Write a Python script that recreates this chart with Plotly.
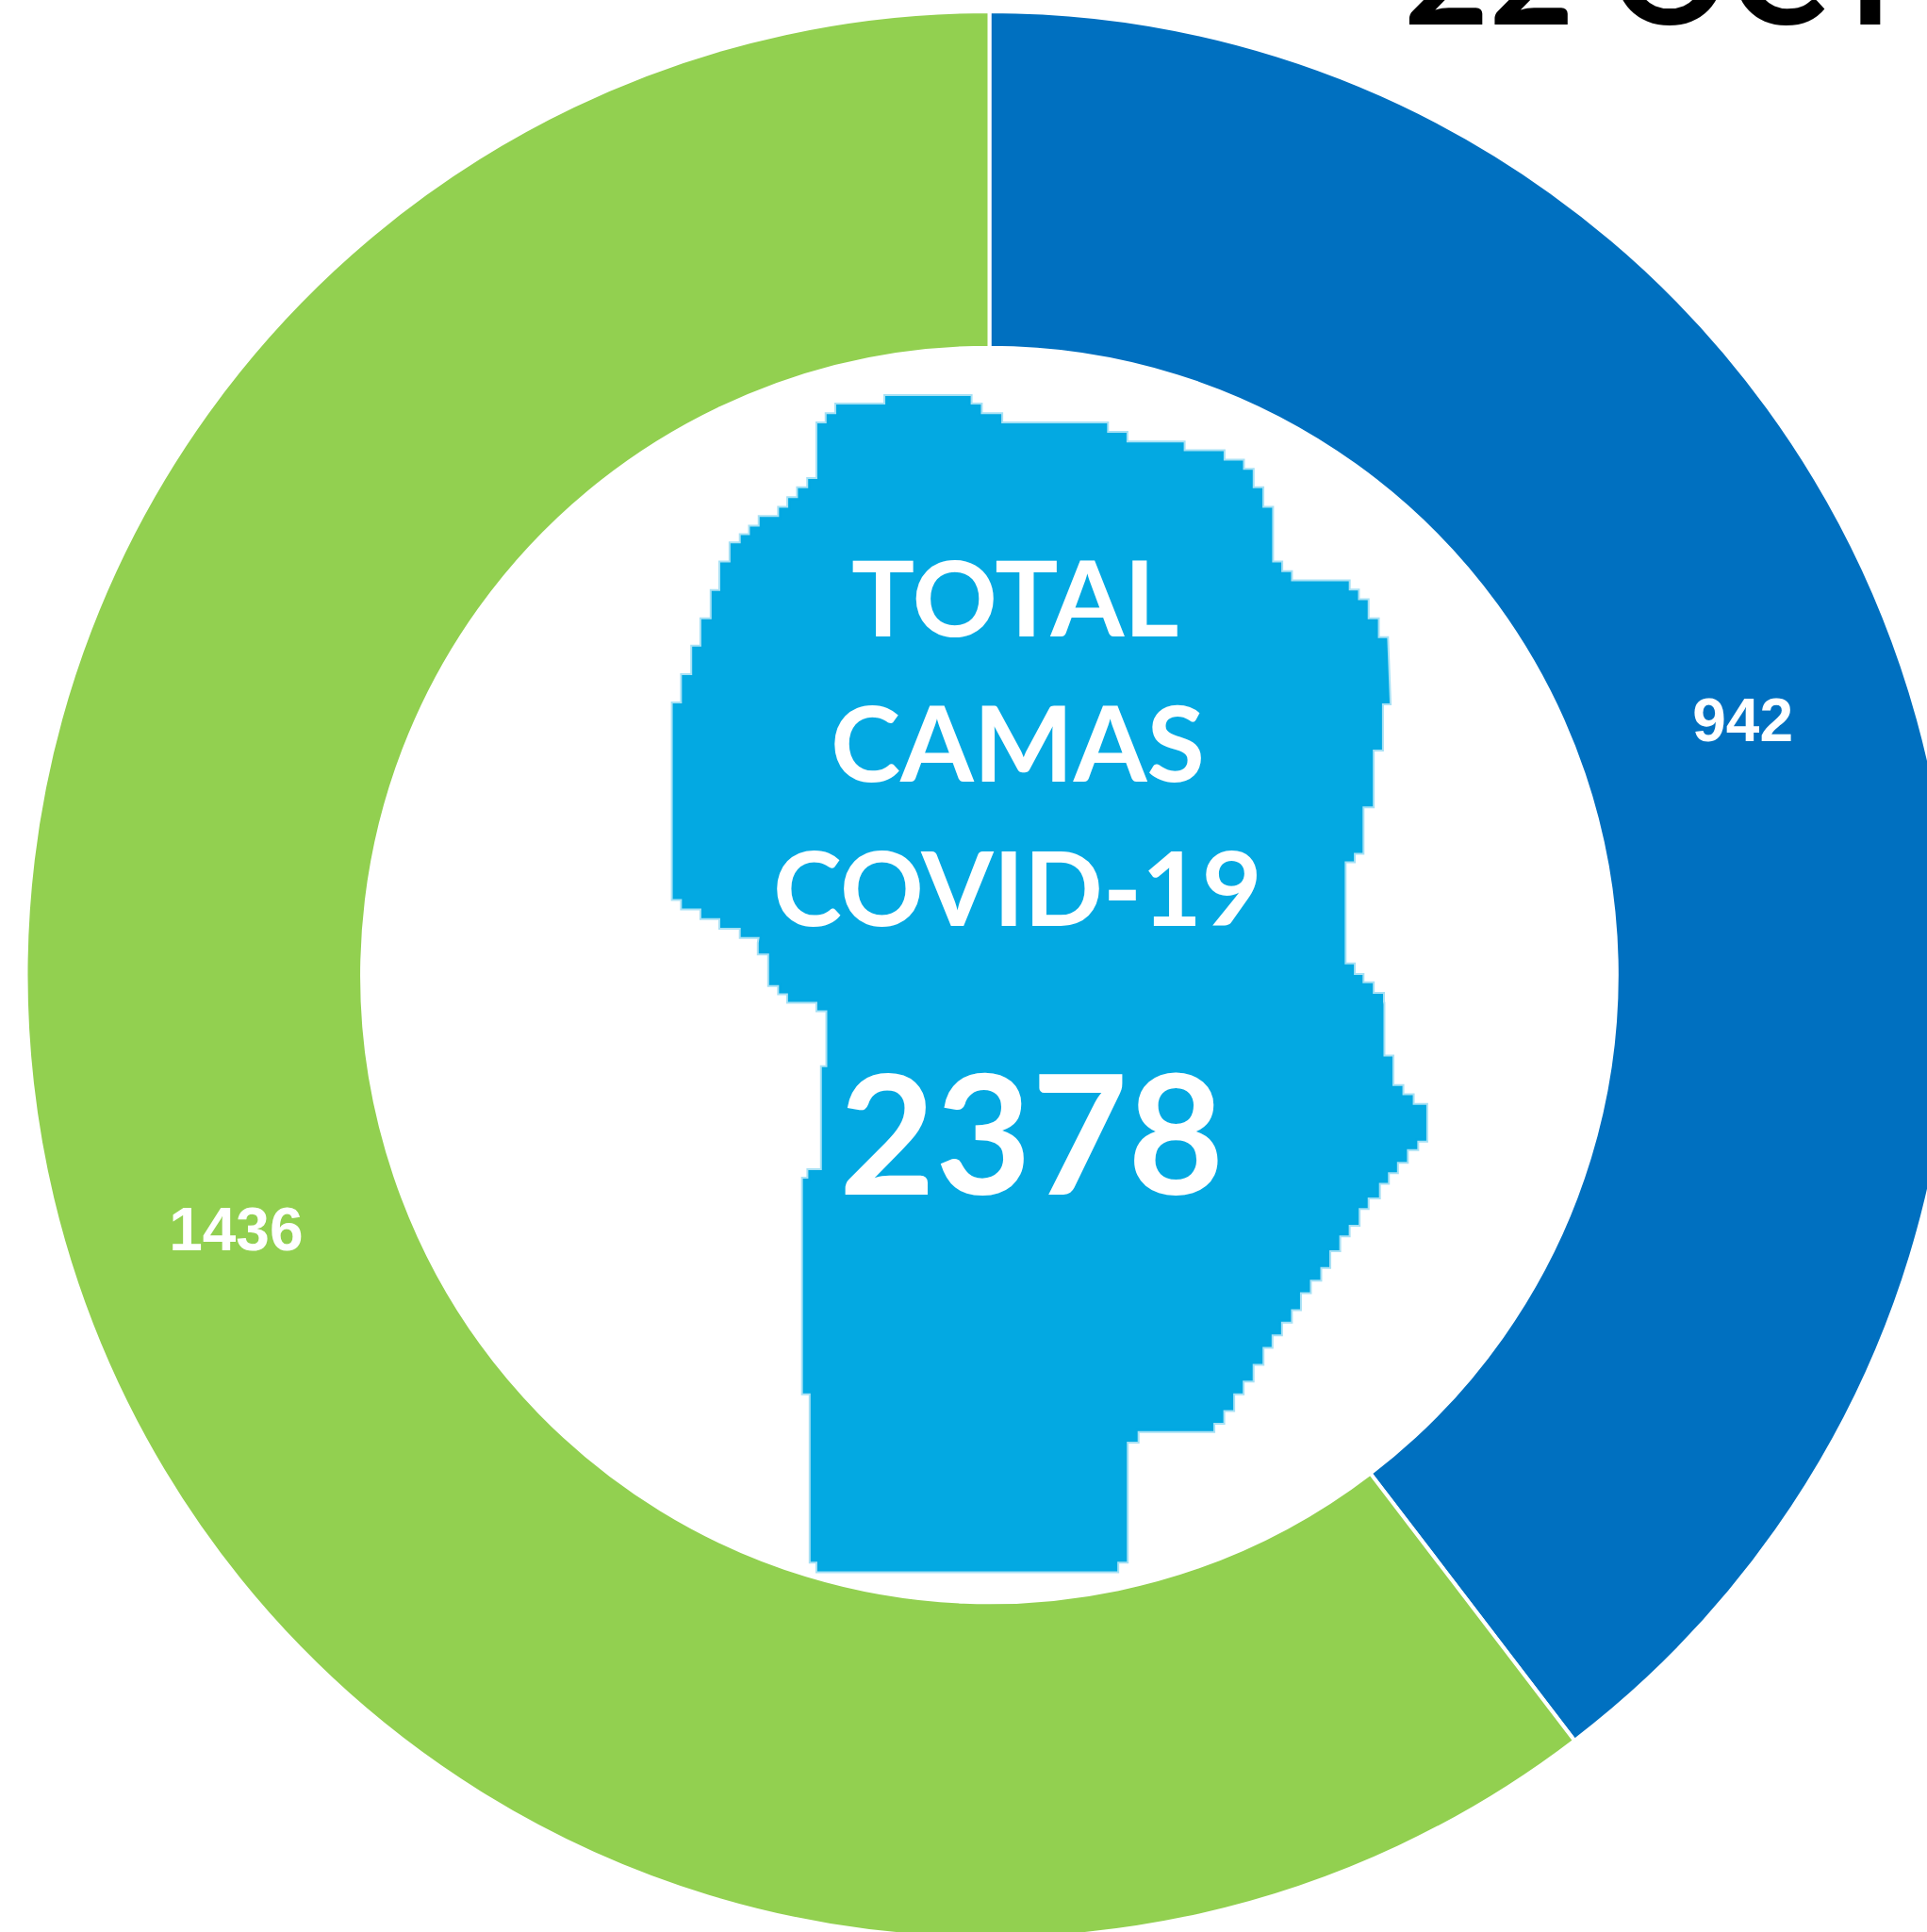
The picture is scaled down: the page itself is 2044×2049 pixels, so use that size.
import plotly.graph_objects as go

categories = ["Ocupadas", "Disponibles"]
values = [942, 1436]
colors = ["#0070C0", "#92D050"]
center_lines = ["TOTAL", "CAMAS", "COVID-19"]
total_label = "2378"
date_label = "22 OCT"

W, H = 2099, 2068

# map silhouette, in page pixels via the zoom crops
z2 = [(363,110),(363,88),(382,88),(382,65),(478,65),(478,45),(645,45),(645,65),(665,65),(665,88),(705,88),(705,110),
      (912,110),(912,132),(950,132),(950,155),(1062,155),(1062,176),(1140,176),(1140,198),(1178,198),(1178,220),
      (1197,220),(1197,264),(1216,264),(1216,310),(1235,310),(1235,440),(1253,440),(1253,463),(1272,463),(1272,485),
      (1385,485),(1385,507),(1403,507),(1403,530),(1422,530),(1422,575),(1442,575),(1442,620),(1460,620),(1465,775),
      (1450,775),(1450,885),(1432,885),(1432,1020),(1412,1020),(1412,1130),(1395,1130),(1395,1150),(1377,1150),
      (1377,1395),(1395,1395),(1395,1420),(1412,1420),(1412,1440),(1432,1440),(1432,1465),(1452,1465),(1452,1490)]
z3 = [(1395,140),(1395,270),(1415,270),(1415,340),(1437,340),(1437,362),(1460,362),(1460,385),(1490,385),(1490,470),
      (1470,470),(1470,490),(1447,490),(1447,520),(1425,520),(1425,545),(1405,545),(1405,570),(1385,570),(1385,605),
      (1360,605),(1360,630),(1340,630),(1340,670),(1318,670),(1318,695),(1297,695),(1297,730),(1275,730),(1275,770),
      (1255,770),(1255,800),(1232,800),(1232,830),(1210,830),(1210,870),(1190,870),(1190,900),(1168,900),(1168,930),
      (1147,930),(1147,960),(1127,960),(1127,1000),(1105,1000),(1105,1040),(1083,1040),(1083,1070),(1062,1070),
      (1062,1110),(1040,1110),(1040,1140),(1018,1140),(1018,1160),(850,1160),(850,1185),(826,1185),(826,1470),(805,1470),
      (805,1493),(140,1493),(140,1470),(125,1470),(125,1070),(108,1070),(108,560),(120,560),(120,540),(140,540),
      (150,540),(150,295),(162,295),(162,160),(140,160),(140,140),(75,140),(75,120),(55,120),(55,100),(33,100),(33,25),(10,25),(10,0)]
z2b = [(232,1330),(195,1330),
       (195,1308),(155,1308),(155,1285),(118,1285),(118,1262),(80,1262),(80,1240),(62,1240),(62,775),(80,775),(80,708),
       (100,708),(100,640),(118,640),(118,575),(138,575),(138,508),(155,508),(155,440),(175,440),(175,395),(195,395),
       (195,375),(213,375),(213,355),(232,355),(232,332),(270,332),(270,310),(288,310),(288,287),(307,287),(307,264),
       (327,264),(327,242),(345,242),(345,110)]
outline = [(680+x/1.845, 400+y/2.24) for x,y in z2] + [(800+x/2.09, 1000+y/2.24) for x,y in z3] + \
          [(680+x/1.845, 400+y/2.24) for x,y in z2b]

def X(p): return p/W
def Y(p): return 1-p/H

path = "M " + " L ".join(f"{X(x):.5f},{Y(y):.5f}" for x,y in outline) + " Z"

fig = go.Figure(go.Pie(
    labels=categories, values=values, sort=False, direction="clockwise", rotation=0, hole=0.651,
    marker=dict(colors=colors, line=dict(color="white", width=4)),
    textinfo="value", textposition="inside", insidetextorientation="horizontal",
    textfont=dict(family="Liberation Sans", size=64, color="white", weight=700),
    domain=dict(x=[0,1], y=[12/H, 1-12/H]), showlegend=False, hoverinfo="label+value",
))

def label(txt, cx, cy, size):
    return dict(text=f"<b>{txt}</b>", x=X(cx), y=Y(cy), xref="paper", yref="paper", xanchor="center", yanchor="middle",
                showarrow=False, font=dict(family="Lato", size=size, color="white"))

ann = [label(center_lines[0], 1077, 632, 112),
       label(center_lines[1], 1079, 785, 112),
       label(center_lines[2], 1079, 939, 110),
       label(total_label, 1094, 1198, 176),
       dict(text=f"<b>{date_label}</b>", x=X(1487), y=Y(25), xref="paper", yref="paper", xanchor="left", yanchor="bottom",
            yshift=-36, showarrow=False, font=dict(family="Lato", size=156, color="black"))]

fig.update_layout(width=W, height=H, margin=dict(l=0,r=0,t=0,b=0), paper_bgcolor="white", plot_bgcolor="white",
    annotations=ann,
    shapes=[dict(type="path", path=path, xref="paper", yref="paper", fillcolor="#03A9E2",
                 line=dict(color="rgba(3,169,226,0.35)", width=4), layer="above")])

fig.write_html("out.html", config=dict(displayModeBar=False),
    post_script="document.body.style.margin='0';document.body.style.overflow='hidden';document.documentElement.style.overflow='hidden';")
